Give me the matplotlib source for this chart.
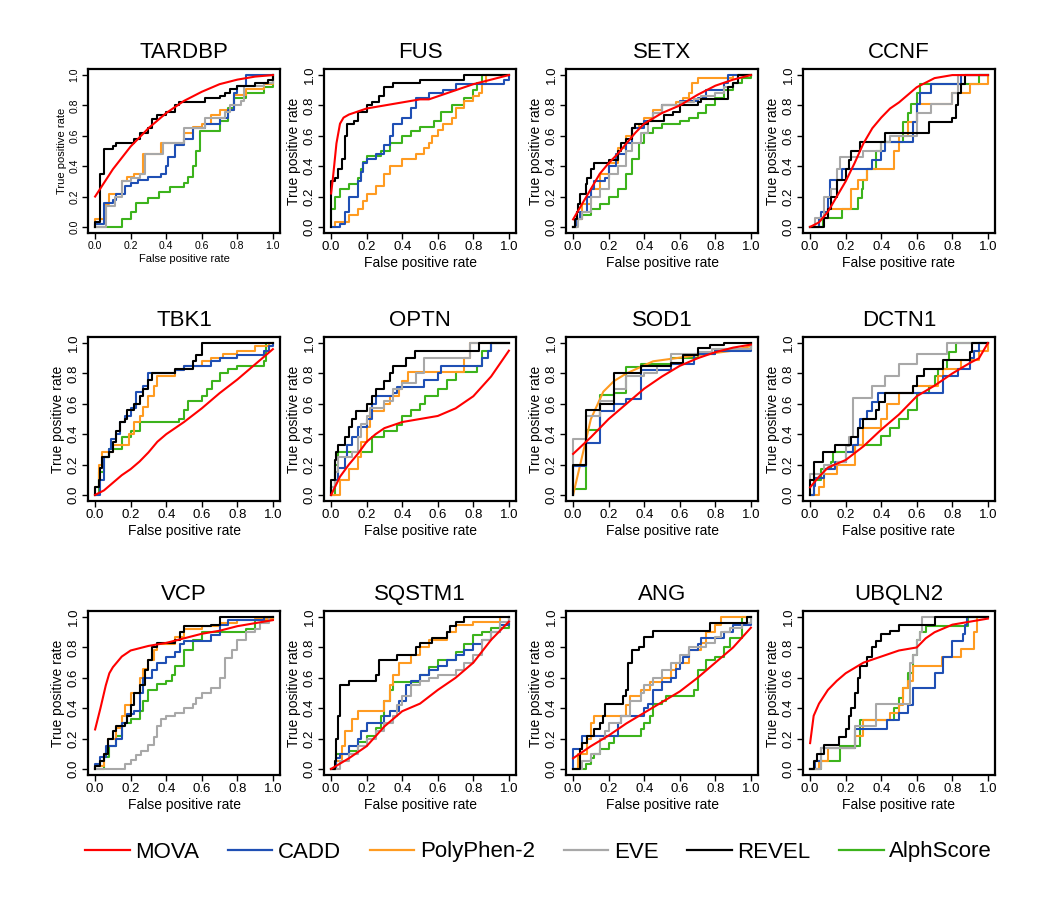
import matplotlib
matplotlib.use("Agg")
import matplotlib.pyplot as plt
from matplotlib.lines import Line2D

plt.rcParams['font.family'] = ['Liberation Sans', 'DejaVu Sans']

SERIES = ["MOVA", "CADD", "PolyPhen-2", "EVE", "REVEL", "AlphScore"]
COLORS = ["#FF0000", "#1F4FB4", "#FF9B21", "#A8A8A8", "#000000", "#3CB31C"]
DRAW_ORDER = ["AlphScore", "PolyPhen-2", "CADD", "EVE", "REVEL", "MOVA"]
GENES = ["TARDBP", "FUS", "SETX", "CCNF", "TBK1", "OPTN", "SOD1", "DCTN1",
         "VCP", "SQSTM1", "ANG", "UBQLN2"]

# (fpr, tpr) points; MOVA is smooth, others are ROC steps
TARDBP = {
    "MOVA": ([0, .1, .2, .3, .4, .5, .6, .7, .8, .9, 1], [.2, .38, .53, .65, .75, .83, .89, .94, .97, .99, 1]),
    "REVEL": ([0, .03, .05, .1, .12, .2, .22, .25, .3, .32, .35, .4, .45, .47, .62, .7, .73, .76, .8, .9, .97],
              [.03, .35, .51, .53, .55, .55, .58, .62, .65, .71, .74, .76, .8, .82, .85, .86, .88, .91, .93, .95, .97]),
    "PolyPhen-2": ([0, .06, .08, .15, .18, .22, .27, .37, .5, .55, .6, .65, .7, .78, .85, .95],
                   [.05, .15, .22, .3, .33, .35, .48, .55, .62, .66, .68, .74, .77, .87, .91, .94]),
    "EVE": ([.06, .11, .15, .2, .25, .28, .38, .5, .62, .73, .76, .82, .84, .95],
            [.14, .2, .3, .32, .35, .48, .55, .65, .72, .76, .8, .83, .93, .95]),
    "CADD": ([0, .05, .1, .12, .17, .2, .24, .3, .37, .4, .41, .45, .5, .55, .62, .7, .75, .78, .8, .85],
             [.02, .16, .18, .22, .27, .29, .31, .33, .35, .4, .46, .54, .58, .65, .68, .72, .77, .88, .93, 1.0]),
    "AlphScore": ([.15, .2, .23, .3, .36, .42, .5, .52, .55, .57, .59, .7, .75, .78, .85, .95],
                  [.05, .1, .16, .19, .23, .26, .29, .33, .4, .5, .63, .7, .78, .85, .88, .92]),
}
FUS = {
    "MOVA": ([0, .01, .03, .05, .07, .1, .2, .3, .4, .5, .55, .65, .8, 1],
             [.22, .32, .55, .68, .72, .74, .78, .8, .82, .84, .84, .88, .94, 1]),
    "REVEL": ([0, .02, .04, .06, .08, .09, .13, .15, .2, .23, .27, .3, .35, .5, .75],
              [.3, .32, .38, .45, .6, .68, .7, .76, .8, .82, .86, .92, .95, .97, 1]),
    "CADD": ([.05, .08, .1, .15, .17, .18, .2, .25, .3, .33, .35, .4, .45, .48, .55, .63, .7, .97],
             [.02, .1, .2, .3, .36, .42, .45, .48, .54, .6, .68, .72, .78, .85, .88, .9, .94, .97]),
    "AlphScore": ([0, .02, .05, .1, .15, .17, .18, .2, .28, .33, .4, .45, .5, .58, .62, .68, .75, .8, .82, .85],
                  [.12, .2, .25, .28, .32, .38, .43, .47, .5, .55, .6, .63, .66, .7, .76, .8, .85, .9, .95, 1]),
    "PolyPhen-2": ([.02, .1, .15, .18, .2, .25, .3, .33, .4, .48, .52, .55, .57, .6, .63, .68, .7, .75, .8, .83, .85, .87],
                   [.03, .08, .12, .17, .22, .27, .35, .4, .45, .48, .52, .55, .6, .64, .68, .72, .78, .83, .86, .88, .94, 1]),
}
SETX = {
    "MOVA": ([0, .05, .1, .15, .2, .25, .3, .35, .4, .5, .6, .7, .8, .9, 1],
             [.05, .15, .25, .35, .42, .48, .55, .62, .68, .75, .8, .87, .93, .97, 1]),
    "REVEL": ([.01, .02, .03, .04, .07, .08, .1, .12, .2, .25, .27, .3, .33, .35, .42, .51, .56, .6, .7, .72, .87, .9, .93],
              [.05, .1, .15, .22, .28, .32, .38, .42, .44, .5, .55, .58, .65, .68, .7, .74, .76, .8, .82, .84, .92, .95, 1]),
    "PolyPhen-2": ([.02, .05, .1, .15, .2, .25, .3, .33, .37, .4, .45, .5, .58, .62, .65, .67, .7, .9],
                   [.05, .15, .25, .35, .42, .52, .6, .65, .68, .72, .77, .8, .82, .85, .88, .95, .98, 1]),
    "CADD": ([.02, .04, .08, .1, .12, .18, .2, .24, .3, .33, .4, .45, .5, .6, .7, .75, .85, .87],
             [.05, .1, .2, .25, .3, .32, .4, .48, .55, .65, .7, .75, .8, .83, .85, .9, .95, 1]),
    "EVE": ([.03, .05, .1, .15, .2, .25, .3, .33, .38, .42, .45, .5, .6, .68, .72, .8, .85, .9, .93],
            [.05, .1, .2, .25, .35, .4, .5, .55, .62, .7, .75, .8, .82, .84, .86, .88, .92, .95, 1]),
    "AlphScore": ([.02, .05, .1, .15, .2, .25, .3, .33, .37, .4, .45, .5, .6, .65, .7, .75, .8, .85, .9, .95],
                  [.05, .08, .12, .15, .2, .25, .35, .45, .55, .62, .65, .68, .7, .72, .75, .8, .85, .9, .95, .98]),
}
CCNF = {
    "MOVA": ([0, .05, .1, .15, .2, .25, .3, .35, .4, .45, .5, .55, .6, .7, .8, 1],
             [0, .03, .1, .2, .3, .42, .55, .65, .72, .78, .82, .87, .92, .98, 1, 1]),
    "REVEL": ([.08, .1, .12, .15, .2, .22, .23, .28, .42, .67, .8, .82, .83, .85, .87],
              [.06, .12, .2, .31, .38, .44, .5, .56, .62, .69, .72, .8, .88, .94, 1]),
    "CADD": ([.05, .06, .1, .11, .18, .35, .4, .42, .58, .6, .62, .68, .85],
             [.06, .1, .19, .31, .38, .44, .5, .56, .69, .81, .88, .94, 1]),
    "EVE": ([.03, .08, .12, .15, .17, .3, .4, .45, .6, .68, .8, .83],
            [.06, .2, .25, .38, .46, .5, .56, .6, .75, .81, .88, 1]),
    "PolyPhen-2": ([.05, .1, .22, .23, .27, .32, .46, .47, .5, .55, .6, .76, .8, .9],
                   [.06, .12, .12, .25, .31, .38, .38, .5, .6, .69, .81, .81, .88, .94]),
    "AlphScore": ([.07, .18, .27, .29, .3, .32, .37, .4, .52, .55, .57, .6, .62, .95],
                  [.06, .12, .19, .25, .31, .38, .5, .56, .69, .75, .81, .88, .94, 1]),
}
TBK1 = {
    "MOVA": ([0, .05, .1, .15, .2, .25, .3, .35, .4, .45, .5, .6, .7, .8, .9, 1],
             [0, .03, .08, .13, .17, .22, .28, .35, .4, .44, .48, .57, .67, .76, .86, .96]),
    "REVEL": ([0, .02, .03, .04, .08, .1, .12, .14, .17, .18, .22, .25, .27, .3, .32, .45, .55, .57, .6],
              [.05, .1, .18, .25, .28, .35, .42, .48, .5, .56, .6, .65, .7, .76, .8, .83, .88, .92, 1]),
    "CADD": ([.03, .05, .08, .09, .12, .14, .17, .2, .23, .27, .3, .45, .5, .65, .7, .8, .95, .98],
             [.1, .25, .3, .37, .4, .48, .52, .57, .68, .72, .8, .82, .85, .88, .9, .92, .95, .98]),
    "PolyPhen-2": ([0, .02, .04, .1, .19, .22, .25, .27, .3, .33, .35, .45, .5, .6, .65, .72, .8, .9, .98],
                   [.05, .2, .28, .33, .4, .48, .52, .58, .65, .72, .78, .82, .85, .88, .9, .93, .95, .98, 1]),
    "AlphScore": ([.02, .05, .08, .15, .2, .25, .47, .5, .52, .6, .63, .66, .7, .75, .8, .95, .96],
                  [.15, .25, .3, .38, .42, .48, .5, .56, .62, .65, .7, .75, .8, .83, .85, .88, 1]),
}
OPTN = {
    "MOVA": ([0, .05, .1, .15, .2, .25, .3, .4, .5, .6, .7, .8, .9, 1],
             [0, .12, .2, .27, .35, .4, .44, .48, .5, .52, .57, .65, .78, .95]),
    "REVEL": ([0, .02, .03, .04, .08, .1, .12, .14, .2, .23, .25, .3, .33, .35, .42, .47, .83],
              [.1, .23, .28, .33, .38, .45, .5, .55, .6, .65, .7, .75, .8, .85, .9, .95, 1]),
    "CADD": ([0, .02, .04, .08, .09, .12, .15, .2, .23, .25, .35, .37, .52, .6, .62, .85, .88, .9],
             [.05, .1, .18, .25, .33, .38, .45, .5, .6, .65, .67, .71, .76, .8, .85, .9, .95, 1]),
    "PolyPhen-2": ([.05, .1, .15, .17, .2, .22, .3, .33, .38, .4, .43, .72, .75, .78],
                   [.1, .17, .25, .35, .45, .55, .6, .65, .7, .75, .81, .81, .9, 1]),
    "EVE": ([0, .02, .04, .12, .15, .17, .2, .22, .3, .35, .4, .48, .52, .78],
            [.05, .15, .25, .28, .38, .47, .52, .57, .62, .7, .74, .8, .9, 1]),
    "AlphScore": ([.02, .04, .22, .23, .3, .37, .4, .45, .5, .53, .6, .65, .7, .82, .85, .9],
                  [.2, .28, .28, .38, .42, .46, .52, .56, .6, .65, .7, .76, .81, .85, .95, 1]),
}
SOD1 = {
    "MOVA": ([0, .1, .2, .3, .4, .5, .6, .7, .8, .9, 1],
             [.27, .38, .5, .6, .7, .78, .85, .9, .94, .97, .99]),
    "REVEL": ([0, .07, .075, .15, .23, .38, .55, .62, .7, .77, .85],
              [.2, .22, .56, .6, .8, .85, .87, .92, .97, .99, 1]),
    "EVE": ([0, .07, .15, .23, .3, .4, .47, .55, .7, .78],
            [.37, .52, .62, .7, .78, .8, .85, .93, .94, .96]),
    "CADD": ([0, .07, .15, .23, .3, .38, .55, .68, .8],
             [.19, .34, .55, .6, .63, .82, .86, .93, .95]),
    "AlphScore": ([0, .07, .15, .23, .3, .38, .55, .7, .8],
                  [.04, .43, .66, .67, .84, .86, .9, .93, .96]),
    "PolyPhen-2": ([0, .05, .1, .17, .23, .3, .45, .7, .9, 1],
                   [0, .25, .5, .68, .75, .8, .88, .92, .95, .98]),
}
DCTN1 = {
    "MOVA": ([0, .05, .1, .2, .3, .4, .5, .6, .7, .8, .9, .95, 1],
             [.05, .12, .18, .23, .32, .43, .53, .65, .72, .8, .87, .9, 1]),
    "EVE": ([0, .08, .15, .2, .22, .24, .35, .42, .5, .6, .77],
            [.14, .2, .22, .32, .38, .64, .72, .78, .86, .93, 1]),
    "CADD": ([.02, .03, .08, .14, .2, .24, .27, .28, .32, .35, .38, .75, .83, .9, .92, .95],
             [.06, .11, .17, .22, .28, .33, .44, .5, .55, .61, .67, .78, .83, .9, .95, 1]),
    "REVEL": ([0, .02, .07, .14, .23, .27, .3, .37, .39, .42, .58, .6, .64, .75, .9, .91],
              [.1, .22, .28, .33, .38, .44, .5, .56, .61, .67, .72, .78, .83, .89, .94, 1]),
    "PolyPhen-2": ([.05, .08, .15, .25, .3, .4, .43, .5, .58, .72, .75, .85, .95],
                   [.05, .14, .2, .33, .44, .5, .6, .67, .72, .78, .83, .89, .95]),
    "AlphScore": ([.02, .06, .12, .13, .25, .4, .45, .5, .55, .6, .67, .7, .72, .77, .78, .82],
                  [.1, .17, .22, .28, .33, .39, .44, .5, .56, .67, .72, .78, .83, .89, .94, 1]),
}
VCP = {
    "MOVA": ([0, .03, .06, .08, .1, .15, .2, .3, .4, .5, .6, .7, .8, .9, 1],
             [.26, .4, .55, .63, .67, .74, .78, .81, .83, .86, .89, .91, .94, .96, .98]),
    "REVEL": ([0, .03, .05, .07, .1, .12, .17, .18, .2, .22, .25, .28, .3, .32, .35, .45, .48, .5, .65, .7],
              [.02, .05, .1, .2, .25, .28, .3, .35, .42, .5, .55, .65, .72, .8, .83, .85, .9, .94, .95, 1]),
    "PolyPhen-2": ([0, .05, .07, .12, .15, .17, .2, .25, .27, .3, .33, .35, .45, .5, .6, .7, .8, .9],
                   [.02, .1, .2, .27, .35, .42, .5, .6, .66, .72, .78, .82, .87, .92, .94, .96, .98, .99]),
    "CADD": ([0, .03, .06, .12, .15, .18, .22, .25, .27, .32, .35, .4, .45, .48, .5, .65, .7, .75, .95],
             [.03, .08, .15, .2, .3, .36, .38, .5, .6, .65, .7, .74, .77, .82, .84, .88, .95, .98, 1]),
    "AlphScore": ([.05, .08, .12, .15, .2, .25, .27, .3, .35, .4, .43, .45, .5, .55, .6, .85, .9],
                  [.08, .15, .22, .3, .33, .38, .45, .52, .56, .58, .62, .68, .78, .85, .9, .92, .98]),
    "EVE": ([.17, .2, .23, .26, .3, .33, .35, .37, .4, .45, .5, .55, .57, .6, .65, .7, .73, .77, .8, .85, .9, .93, .98],
            [.03, .06, .09, .12, .16, .21, .28, .33, .35, .37, .4, .43, .47, .5, .53, .6, .73, .78, .85, .9, .92, .96, 1]),
}
SQSTM1 = {
    "MOVA": ([0, .1, .2, .3, .4, .5, .6, .7, .8, .9, 1],
             [0, .07, .15, .28, .38, .43, .52, .6, .7, .85, .97]),
    "REVEL": ([.02, .03, .04, .05, .1, .25, .27, .37, .48, .5, .57, .65, .67, .7, .75],
              [.05, .2, .35, .55, .58, .62, .72, .75, .8, .83, .86, .9, .94, .97, 1]),
    "PolyPhen-2": ([.03, .06, .08, .12, .15, .3, .33, .35, .38, .45, .5, .55, .65, .7, .8, .95],
                   [.05, .15, .25, .33, .38, .45, .55, .62, .7, .75, .8, .85, .9, .95, .97, 1]),
    "CADD": ([.03, .05, .1, .15, .17, .2, .3, .33, .38, .42, .45, .5, .55, .6, .65, .7, .75, .8, .85, .9, .95],
             [.07, .1, .15, .2, .25, .3, .35, .38, .45, .55, .58, .62, .65, .68, .72, .75, .78, .82, .85, .9, .95]),
    "AlphScore": ([.03, .1, .15, .2, .25, .28, .3, .33, .35, .5, .55, .6, .7, .75, .8, .85, .9],
                  [.1, .12, .18, .22, .27, .35, .45, .52, .57, .62, .67, .72, .77, .82, .88, .9, .93]),
    "EVE": ([.05, .1, .15, .2, .25, .3, .35, .37, .4, .45, .5, .55, .6, .7, .75, .8, .85, .9, .95],
            [.05, .1, .15, .2, .25, .3, .35, .42, .48, .55, .58, .6, .62, .65, .7, .75, .85, .9, .97]),
}
ANG = {
    "MOVA": ([0, .1, .2, .3, .4, .5, .6, .7, .8, .9, 1],
             [.07, .15, .22, .3, .37, .44, .51, .6, .7, .8, .93]),
    "REVEL": ([.04, .05, .08, .12, .15, .17, .18, .28, .3, .31, .33, .37, .4, .45, .77, .98],
              [.13, .17, .22, .26, .3, .35, .43, .48, .52, .7, .78, .8, .87, .91, .96, 1]),
    "PolyPhen-2": ([.03, .08, .1, .12, .3, .32, .38, .43, .5, .55, .58, .65, .72, .75, .8, .83],
                   [.1, .2, .3, .35, .42, .48, .52, .57, .6, .65, .7, .78, .83, .9, .95, 1]),
    "CADD": ([0, .05, .25, .27, .4, .42, .45, .5, .55, .58, .6, .62, .65, .7, .72, .85, .9],
             [.13, .22, .3, .35, .4, .43, .52, .57, .6, .66, .7, .74, .78, .82, .86, .9, .95]),
    "EVE": ([.05, .1, .15, .18, .2, .27, .32, .38, .4, .45, .5, .55, .6, .65, .75, .8, .83, .88, .95],
            [.05, .1, .2, .25, .3, .35, .45, .5, .55, .6, .65, .7, .75, .8, .83, .87, .9, .93, .96]),
    "AlphScore": ([.07, .1, .12, .15, .2, .23, .38, .4, .43, .45, .5, .52, .68, .7, .75, .8, .85, .88, .95],
                  [.03, .07, .1, .13, .17, .22, .26, .3, .35, .43, .45, .48, .52, .65, .72, .74, .8, .86, 1]),
}
UBQLN2 = {
    "MOVA": ([0, .02, .05, .1, .15, .2, .3, .4, .5, .6, .65, .7, .8, .9, 1],
             [.17, .35, .43, .52, .58, .63, .7, .74, .78, .8, .86, .9, .95, .97, .99]),
    "REVEL": ([.02, .04, .08, .16, .2, .22, .23, .25, .27, .28, .32, .35, .37, .4, .45, .5, .7],
              [.05, .1, .16, .21, .26, .35, .4, .5, .6, .68, .74, .8, .84, .89, .91, .95, 1]),
    "CADD": ([.03, .06, .25, .43, .5, .55, .58, .7, .75, .8, .86, .87, .88],
             [.05, .14, .26, .32, .37, .42, .53, .63, .74, .84, .89, .95, 1]),
    "PolyPhen-2": ([.05, .1, .25, .3, .45, .5, .52, .55, .58, .74, .85, .92, .94],
                   [.05, .14, .22, .32, .37, .42, .53, .58, .68, .74, .79, .9, 1]),
    "AlphScore": ([.06, .17, .28, .47, .5, .52, .55, .58, .6, .62, .65, .89],
                  [.05, .15, .32, .4, .47, .53, .63, .75, .85, .9, .94, 1]),
    "EVE": ([.06, .25, .37, .56, .58, .6, .62, .63],
            [.14, .28, .43, .7, .75, .85, .9, 1]),
}

PANEL_DATA = [TARDBP, FUS, SETX, CCNF, TBK1, OPTN, SOD1, DCTN1, VCP, SQSTM1, ANG, UBQLN2]
SMOOTH = {("SOD1", "PolyPhen-2")}

W, H = 1050, 900
fig = plt.figure(figsize=(W / 100, H / 100), dpi=100)

col_left = [88, 324, 566, 803]
row_top = [69, 337, 611]
ax_w, ax_h = 192, 164

color_of = dict(zip(SERIES, COLORS))

for i, (gene, data) in enumerate(zip(GENES, PANEL_DATA)):
    r, c = divmod(i, 4)
    left = col_left[c] / W
    bottom = 1 - (row_top[r] + ax_h) / H
    ax = fig.add_axes([left, bottom, ax_w / W, ax_h / H])
    small = (gene == "TARDBP")
    tfs = 7.5 if small else 9.5
    lfs = 8 if small else 10
    for name in DRAW_ORDER:
        if name not in data:
            continue
        xs, ys = data[name]
        col = color_of[name]
        if name == "MOVA" or (gene, name) in SMOOTH:
            ax.plot(xs, ys, color=col, lw=1.5, solid_joinstyle='round')
        else:
            x = [0] + list(xs) + [1]
            y = [0] + list(ys) + [1]
            ax.plot(x, y, color=col, lw=1.5, drawstyle='steps-post')
    ax.set_xlim(-0.04, 1.04)
    ax.set_ylim(-0.04, 1.04)
    ticks = [0, 0.2, 0.4, 0.6, 0.8, 1.0]
    ax.set_xticks(ticks)
    ax.set_yticks(ticks)
    ax.set_xticklabels(["0.0", "0.2", "0.4", "0.6", "0.8", "1.0"], fontsize=tfs)
    ax.set_yticklabels(["0.0", "0.2", "0.4", "0.6", "0.8", "1.0"], fontsize=tfs,
                       rotation=90, va='center')
    ax.tick_params(direction='out', length=4, width=1.0, pad=2)
    for sp in ax.spines.values():
        sp.set_linewidth(1.6)
    ax.set_xlabel("False positive rate", fontsize=lfs, labelpad=2)
    ax.set_ylabel("True positive rate", fontsize=lfs, labelpad=2)
    ax.set_title(gene, fontsize=16, pad=8)

handles = [Line2D([0], [0], color=c, lw=1.6) for c in COLORS]
fig.legend(handles, SERIES, loc='center', bbox_to_anchor=(0.513, 1 - 852 / H),
           ncol=6, frameon=False, fontsize=16, handlelength=2.0,
           handletextpad=0.25, columnspacing=1.3)

fig.savefig("out.png", dpi=100)
